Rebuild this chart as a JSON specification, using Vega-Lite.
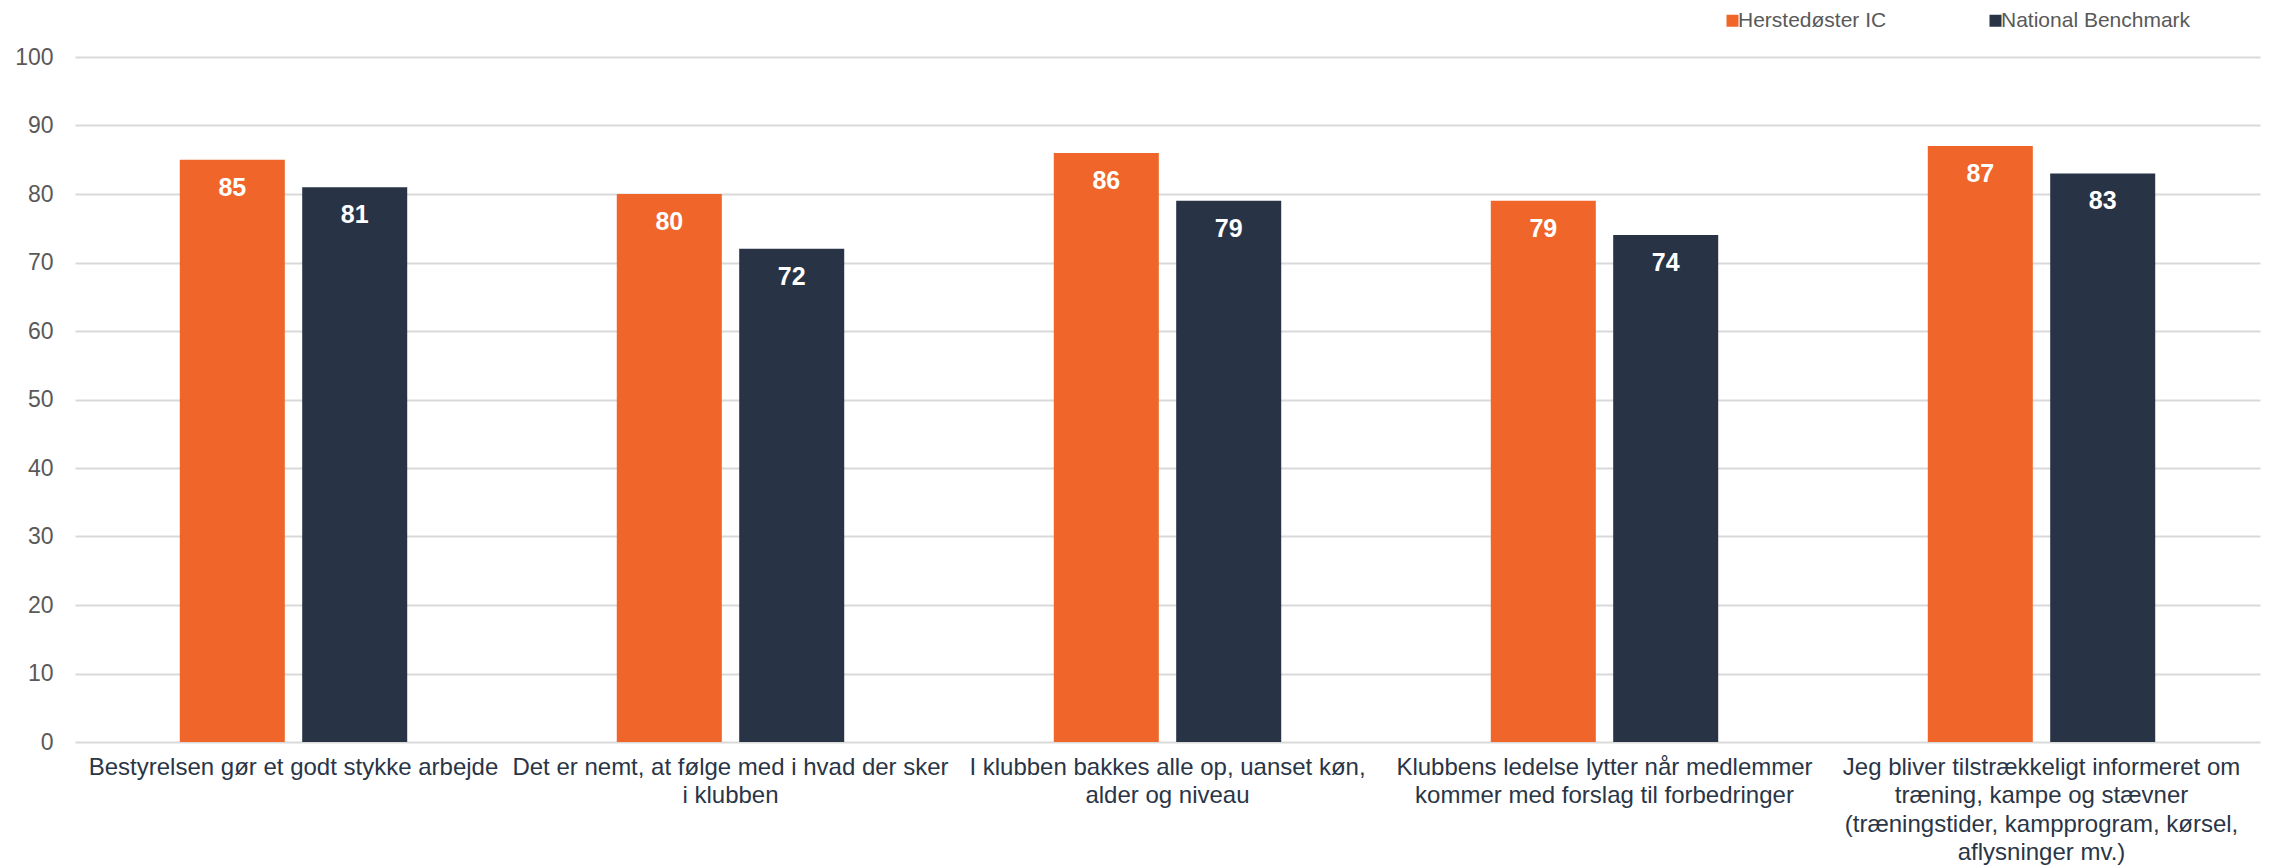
{
  "$schema": "https://vega.github.io/schema/vega-lite/v6.json",
  "autosize": {"type": "none"},
  "width": 2185,
  "height": 685,
  "padding": {"left": 75, "top": 57, "right": 10, "bottom": 125},
  "background": "white",
  "config": {
    "view": {"stroke": null},
    "font": "Liberation Sans"
  },
  "data": {
    "values": [
      {"q": "Bestyrelsen gør et godt stykke arbejde", "series": "Herstedøster IC", "value": 85},
      {"q": "Bestyrelsen gør et godt stykke arbejde", "series": "National Benchmark", "value": 81},
      {"q": "Det er nemt, at følge med i hvad der sker|i klubben", "series": "Herstedøster IC", "value": 80},
      {"q": "Det er nemt, at følge med i hvad der sker|i klubben", "series": "National Benchmark", "value": 72},
      {"q": "I klubben bakkes alle op, uanset køn,|alder og niveau", "series": "Herstedøster IC", "value": 86},
      {"q": "I klubben bakkes alle op, uanset køn,|alder og niveau", "series": "National Benchmark", "value": 79},
      {"q": "Klubbens ledelse lytter når medlemmer|kommer med forslag til forbedringer", "series": "Herstedøster IC", "value": 79},
      {"q": "Klubbens ledelse lytter når medlemmer|kommer med forslag til forbedringer", "series": "National Benchmark", "value": 74},
      {"q": "Jeg bliver tilstrækkeligt informeret om|træning, kampe og stævner|(træningstider, kampprogram, kørsel,|aflysninger mv.)", "series": "Herstedøster IC", "value": 87},
      {"q": "Jeg bliver tilstrækkeligt informeret om|træning, kampe og stævner|(træningstider, kampprogram, kørsel,|aflysninger mv.)", "series": "National Benchmark", "value": 83}
    ]
  },
  "encoding": {
    "x": {
      "field": "q",
      "type": "nominal",
      "sort": null,
      "scale": {"paddingInner": 0, "paddingOuter": 0},
      "axis": {
        "title": null,
        "labelAngle": 0,
        "labelExpr": "split(datum.label, '|')",
        "labelFont": "Liberation Sans",
        "labelFontSize": 24,
        "labelColor": "#2A3546",
        "labelLineHeight": 28.5,
        "labelPadding": 13,
        "labelLimit": 0,
        "labelBaseline": "top",
        "ticks": false,
        "domain": false
      }
    },
    "xOffset": {
      "field": "series",
      "type": "nominal",
      "sort": ["Herstedøster IC", "National Benchmark"],
      "scale": {"paddingInner": 0.142, "paddingOuter": 0.856}
    },
    "y": {
      "field": "value",
      "type": "quantitative",
      "scale": {"domain": [0, 100], "nice": false},
      "axis": {
        "title": null,
        "values": [0, 10, 20, 30, 40, 50, 60, 70, 80, 90, 100],
        "labelFont": "Liberation Sans",
        "labelFontSize": 23,
        "labelColor": "#595959",
        "labelPadding": 22,
        "ticks": false,
        "domain": false,
        "gridColor": "#D9D9D9",
        "gridWidth": 2
      }
    }
  },
  "layer": [
    {
      "mark": {"type": "bar"},
      "encoding": {
        "color": {
          "field": "series",
          "type": "nominal",
          "scale": {"domain": ["Herstedøster IC", "National Benchmark"], "range": ["#F06529", "#283446"]},
          "legend": {
            "title": null,
            "orient": "none",
            "direction": "horizontal",
            "legendX": 1647,
            "legendY": -47,
            "symbolType": "square",
            "symbolSize": 144,
            "symbolStrokeWidth": 0,
            "labelFont": "Liberation Sans",
            "labelFontSize": 21,
            "labelColor": "#595959",
            "labelOffset": -5,
            "labelLimit": 0,
            "columnPadding": 98
          }
        }
      }
    },
    {
      "mark": {"type": "text", "color": "white", "fontWeight": "bold", "fontSize": 25, "font": "Liberation Sans", "baseline": "middle", "dy": 28},
      "encoding": {
        "text": {"field": "value", "type": "quantitative"}
      }
    }
  ]
}
